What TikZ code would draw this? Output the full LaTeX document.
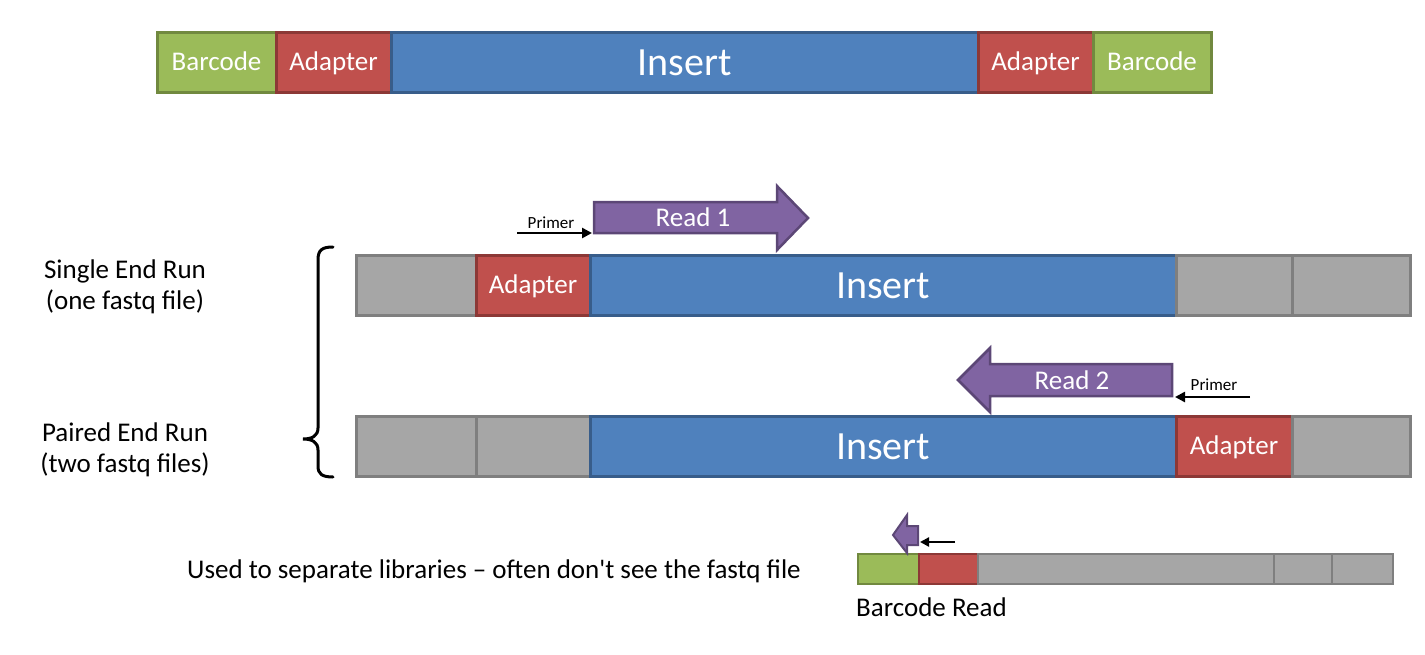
\documentclass[tikz,border=0pt]{standalone}
\usepackage{fontspec}
\setmainfont{Carlito}
\usetikzlibrary{arrows.meta}
\definecolor{gfill}{HTML}{9BBB59}\definecolor{gline}{HTML}{71893F}
\definecolor{rfill}{HTML}{C0504D}\definecolor{rline}{HTML}{8C3836}
\definecolor{bfill}{HTML}{4F81BD}\definecolor{bline}{HTML}{385D8A}
\definecolor{kfill}{HTML}{A6A6A6}\definecolor{kline}{HTML}{7F7F7F}
\definecolor{pfill}{HTML}{8064A2}\definecolor{pline}{HTML}{5C4776}
\tikzset{
  seg/.style={rectangle, inner sep=0pt, line width=3pt, minimum height=60pt, text=white, font=\fontsize{27}{32}\selectfont, text height=17.5pt, text depth=0pt},
  bcseg/.style={seg, fill=gfill, draw=gline},
  adseg/.style={seg, fill=rfill, draw=rline},
  inseg/.style={seg, fill=bfill, draw=bline, font=\fontsize{40}{46}\selectfont, text height=26pt},
  gyseg/.style={seg, fill=kfill, draw=kline},
  readarrow/.style={fill=pfill, draw=pline, line width=2.5pt, line join=miter},
  readtext/.style={text=white, font=\fontsize{27}{32}\selectfont, inner sep=0pt, text height=17.5pt, text depth=0pt},
  primer/.style={line width=2.5pt, -{Triangle[length=10pt,width=10pt]}},
  primertext/.style={font=\fontsize{17}{20}\selectfont, inner sep=0pt},
  label/.style={font=\fontsize{27}{31}\selectfont, align=center, inner sep=0pt},
}
\begin{document}
\begin{tikzpicture}[x=1pt,y=-1pt]
\useasboundingbox (0,0) rectangle (1425,654);
% top construct
\node[bcseg, minimum width=119] (tb1) at (216.5,62) {Barcode};
\node[adseg, minimum width=115] (ta1) at (333.5,62) {Adapter};
\node[inseg, minimum width=587] (ti) at (684.5,62) {Insert};
\node[adseg, minimum width=115] (ta2) at (1035.5,62) {Adapter};
\node[bcseg, minimum width=118] (tb2) at (1152,62) {Barcode};
% single end row
\node[gyseg, minimum width=120] (s1) at (416,285) {};
\node[adseg, minimum width=114] (s2) at (533,285) {Adapter};
\node[inseg, minimum width=586] (s3) at (883,285) {Insert};
\node[gyseg, minimum width=116] (s4) at (1234,285) {};
\node[gyseg, minimum width=118] (s5) at (1351,285) {};
% paired end row
\node[gyseg, minimum width=120] (p1) at (416,446) {};
\node[gyseg, minimum width=114] (p2) at (533,446) {};
\node[inseg, minimum width=586] (p3) at (883,446) {Insert};
\node[adseg, minimum width=116] (p4) at (1234,446) {Adapter};
\node[gyseg, minimum width=118] (p5) at (1351,446) {};
% read 1
\draw[readarrow] (594,202) -- (777,202) -- (777,186) -- (808,218) -- (777,250) -- (777,233) -- (594,233) -- cycle;
\node[readtext] (r1) at (693,218) {Read 1};
\coordinate (pr1s) at (517,233);
\coordinate (pr1e) at (592,233);
\draw[primer] (pr1s) -- (pr1e);
\node[primertext] (pt1) at (551,223) {Primer};
% read 2
\draw[readarrow] (1172,364) -- (990,364) -- (990,348) -- (958,380) -- (990,412) -- (990,396) -- (1172,396) -- cycle;
\node[readtext] (r2) at (1072,381) {Read 2};
\coordinate (pr2s) at (1250,397);
\coordinate (pr2e) at (1175,397);
\draw[primer] (pr2s) -- (pr2e);
\node[primertext] (pt2) at (1214,385) {Primer};
% brace
\draw[line width=3pt, line cap=round] (333,247) .. controls (322,247) and (318,250) .. (318,260) -- (318,428) .. controls (318,436) and (312,439) .. (303,439) .. controls (312,439) and (318,442) .. (318,450) -- (318,466) .. controls (318,474) and (322,477) .. (333,477);
% labels
\node[label] (l1) at (125,287) {Single End Run\\(one fastq file)};
\node[label] (l2) at (125,450) {Paired End Run\\(two fastq files)};
% barcode read row
\tikzset{small/.style={line width=2.5pt, minimum height=30pt, inner sep=0pt, rectangle}}
\node[small, fill=gfill, draw=gline, minimum width=61] (c1) at (888.5,569) {};
\node[small, fill=rfill, draw=rline, minimum width=59] (c2) at (948.5,569) {};
\node[small, fill=kfill, draw=kline, minimum width=296] (c3) at (1126,569) {};
\node[small, fill=kfill, draw=kline, minimum width=58] (c4) at (1303,569) {};
\node[small, fill=kfill, draw=kline, minimum width=61] (c5) at (1362.5,569) {};
\draw[readarrow, line width=2pt] (918,526) -- (907,526) -- (907,515) -- (893,535) -- (907,553) -- (907,545) -- (918,545) -- cycle;
\coordinate (pr3s) at (955,542);
\coordinate (pr3e) at (920,542);
\draw[primer, line width=2.2pt, -{Triangle[length=9pt,width=9pt]}] (pr3s) -- (pr3e);
\node[label, anchor=west] (l3) at (187,571) {Used to separate libraries – often don\textquotesingle t see the fastq file};
\node[label, anchor=west] (l4) at (856,607) {Barcode Read};
\end{tikzpicture}
\end{document}
